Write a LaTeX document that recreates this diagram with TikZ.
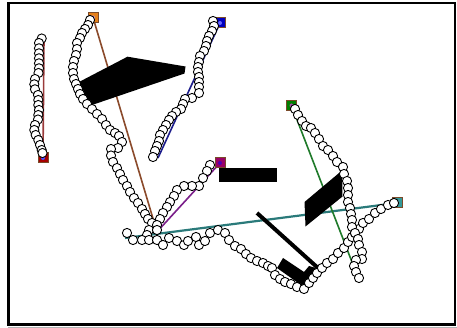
\documentclass[tikz,border=0pt]{standalone}
\pgfdeclarelayer{bg}
\pgfdeclarelayer{lines}
\pgfdeclarelayer{obst}
\pgfdeclarelayer{dots}
\pgfsetlayers{bg,lines,obst,main,dots}
\definecolor{lnA}{HTML}{9A3A3A}
\definecolor{lnB}{HTML}{8B4A2B}
\definecolor{lnC}{HTML}{1E1E8C}
\definecolor{lnD}{HTML}{7B1F8A}
\definecolor{lnE}{HTML}{2A7A7A}
\definecolor{lnF}{HTML}{1F7A2A}
\definecolor{mkBorder}{HTML}{7A4A2A}
\tikzset{
  pt/.style={draw=black,fill=white,line width=0.9pt},
  marker/.style={rectangle,draw=mkBorder,line width=1pt,minimum width=10pt,minimum height=10pt,inner sep=0pt,fill=#1},
  dotin/.style={path picture={\fill[#1] (path picture bounding box.center) circle (2pt);}},
  conn/.style={line width=1.6pt,draw=#1},
  obstacle/.style={fill=black}
}
\begin{document}
\begin{tikzpicture}[x=1pt,y=-1pt]
\useasboundingbox (0,0) rectangle (457,328);
\begin{pgfonlayer}{bg}
\fill[white] (0,0) rectangle (457,328);
\draw[line width=2.5pt] (8.5,3) rectangle (455,324.7);
\draw[gray!60,line width=1pt] (8,327.6) -- (457,327.6);
\end{pgfonlayer}

% markers
\node[marker=red!65!black,dotin=blue!70] (sA) at (43,158) {};
\node[marker=orange!60!brown,dotin=violet!40] (sB) at (93,17.5) {};
\node[marker=blue!75!black,dotin=blue!60] (sC) at (220,23) {};
\node[marker=violet!80!red,dotin=blue!40!violet] (sD) at (220,163) {};
\node[marker=green!50!black,dotin=violet!70] (sF) at (291.5,105.5) {};
\node[marker=teal!80,dotin=magenta!60] (sE) at (397,203) {};

\coordinate (aEnd) at (44,40);
\coordinate (bEnd) at (157,232);
\coordinate (cEnd) at (158,158);
\coordinate (dEnd) at (155,234);
\coordinate (eEnd) at (125,238);
\coordinate (fEnd) at (357,275);

\begin{pgfonlayer}{lines}
\draw[conn=lnA] (sA.center) -- (aEnd);
\draw[conn=lnB] (sB.center) -- (bEnd);
\draw[conn=lnC] (sC.center) -- (cEnd);
\draw[conn=lnD] (sD.center) -- (dEnd);
\draw[conn=lnE,line width=2.2pt] (sE.center) -- (eEnd);
\draw[conn=lnF] (sF.center) -- (fEnd);
\end{pgfonlayer}

\begin{pgfonlayer}{obst}
\fill[obstacle] (79,82) -- (127.5,56.7) -- (185.5,66.5) -- (184.5,73.5) -- (90.5,105.5) -- cycle;
\fill[obstacle] (219,168) rectangle (277,182);
\fill[obstacle] (304.5,202) -- (342,170.5) -- (342.5,196.5) -- (305.5,226.5) -- cycle;
\fill[obstacle] (255.7,214.5) -- (258.3,211.5) -- (319.3,266.5) -- (316.7,269.5) -- cycle;
\fill[obstacle] (283,258) -- (304,272) -- (309,266) -- (316,268) -- (307,284) -- (301,285) -- (277,268) -- cycle;
\end{pgfonlayer}

\begin{pgfonlayer}{dots}
\foreach \p in {(41.7,38.5),(39,43),(39,48.3),(39,53.3),(39,58.3),(39,63.3),(39,68.3),(38.5,73),(35,79),(34.3,84.3),(35,89.3),(38,95),(38.3,100),(38.3,105),(39,110),(38.3,115),(38,119.5),(35,125),(34.3,130),(35.7,135),(38.3,140),(40,145),(41.7,150),(42.5,153)}
  \draw[pt] \p circle[radius=4.6pt];
\foreach \p in {(90,20),(88,25),(85,29),(82,33),(80,38),(77,43),(77,49),(76,55),(74,61),(73,67),(73,73),(74,79),(76,84),(78,89),(80,94),(83,99),(87,104),(92,109),(97,114),(102,119),(106,125),(110,130),(115,133),(119,136),(122,142),(118,148),(111,149),(111,155.5),(113,162),(117,168),(120,174),(123,180),(127,186),(130,192),(134,198),(138,203),(142,209),(145,214),(148,219),(152,223),(149,230),(147,235)}
  \draw[pt] \p circle[radius=4.6pt];
\foreach \p in {(213,21),(214,26),(212,31),(209,36),(207,41),(206,46),(204,51),(200,56),(199,62),(198,67),(198,72),(199,77),(199,82),(199,87),(199,93),(192,98),(185,99),(183,104),(181,109),(176,112),(172,116),(169,120),(166,125),(163,130),(160,135),(159,141),(157,146),(155,151),(153,157)}
  \draw[pt] \p circle[radius=4.6pt];
\foreach \p in {(210,165),(207,171),(203,178),(199,186),(192,186),(184,186),(177,190),(174,196),(170,202),(167,207),(163,213),(160,219),(157,225),(157,230)}
  \draw[pt] \p circle[radius=4.6pt];
\foreach \p in {(127,233),(133,240),(142,240),(149,240),(157,240),(163,245),(169,238),(177,241),(184,245),(188,241),(196,237),(199,245),(205,241),(210,233),(218,230),(225,233),(229,240),(235,246),(241,249),(246,254),(251,258),(257,261),(263,263),(268,266),(272,268),(275,275),(280,279),(285,282),(291,284),(297,287),(304,289),(309,283),(313,278),(317,273),(322,268),(327,263),(333,259),(338,253),(344,248),(348,242),(352,237),(355,233),(359,229),(363,223),(369,219),(375,213),(381,209),(388,205),(394,203)}
  \draw[pt] \p circle[radius=4.6pt];
\foreach \p in {(295,109),(298,115),(302,121),(306,126),(311,128),(315,133),(319,139),(323,146),(328,150),(333,156),(337,162),(343,167),(344,174),(347,181),(348,188),(348,195),(348,202),(350,208),(351,214),(352,220),(352,227),(355,233),(358,239),(359,245),(362,252),(362,259),(356,260),(354,266),(356,272),(359,278)}
  \draw[pt] \p circle[radius=4.6pt];
\end{pgfonlayer}
\end{tikzpicture}
\end{document}
